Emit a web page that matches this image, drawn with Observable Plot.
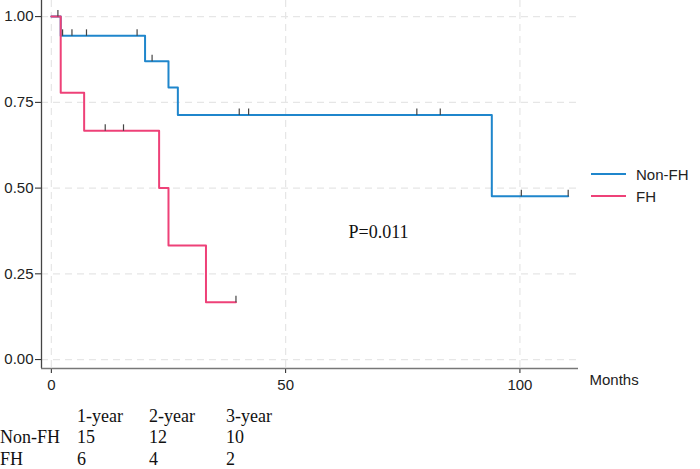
<!DOCTYPE html>
<html>
<head>
<meta charset="utf-8">
<script src="https://cdn.jsdelivr.net/npm/d3@7"></script>
<script src="https://cdn.jsdelivr.net/npm/@observablehq/plot@0.6"></script>
<style>
  body { margin: 0; background: #fff; }
  #wrap { position: relative; width: 700px; height: 469px; overflow: hidden; }
  #legend { position: absolute; left: 591px; top: 163px; font: 15px "Liberation Sans", Arial, sans-serif; color: #222; }
  #legend .row { height: 22px; display: flex; align-items: center; }
  #legend .sw { width: 35px; height: 1.6px; margin-right: 10px; }
  #risk { position: absolute; left: 0; top: 409px; font: 18px "Liberation Serif", "Times New Roman", serif; color: #111;
          display: grid; grid-template-columns: 77px 72px 77px 77px; line-height: 14px; row-gap: 7.4px; }
</style>
</head>
<body>
<div id="wrap"></div>
<script>
// Kaplan–Meier estimates by group: step times (months) and survival after each step
const groups = ["Non-FH", "FH"];
const groupColors = ["#1f86cc", "#ee4178"];

const nonFHTime = [0, 2, 20, 25, 27, 94, 110.3];
const nonFHSurv = [1, 0.944, 0.870, 0.793, 0.713, 0.476, 0.476];
const fhTime = [0, 2, 7, 23, 25, 33, 39.4];
const fhSurv = [1, 0.778, 0.667, 0.5, 0.333, 0.167, 0.167];

// censored observations (months)
const nonFHCensor = [2.4, 4.4, 7.5, 18.3, 21.5, 40.1, 42.1, 78, 83, 100.3, 110.3];
const fhCensor = [1.4, 11.5, 15.4, 39.4];

const xTicks = [0, 50, 100];
const yTicks = [0, 0.25, 0.5, 0.75, 1];
const pValue = "P=0.011";

// number at risk table
const riskCols = ["1-year", "2-year", "3-year"];
const nonFHAtRisk = [15, 12, 10];
const fhAtRisk = [6, 4, 2];

// survival read from the step function at time t
function survAt(times, surv, t) {
  let s = surv[0];
  for (let i = 0; i < times.length; i++) if (times[i] <= t) s = surv[i];
  return s;
}

const curves = [
  ...nonFHTime.map((t, i) => ({group: groups[0], t, s: nonFHSurv[i]})),
  ...fhTime.map((t, i) => ({group: groups[1], t, s: fhSurv[i]}))
];
const censored = [
  ...nonFHCensor.map(t => ({group: groups[0], t, s: survAt(nonFHTime, nonFHSurv, t)})),
  ...fhCensor.map(t => ({group: groups[1], t, s: survAt(fhTime, fhSurv, t)}))
];

const xDomain = [-2.1, 112.5];
const yDomain = [-0.026, 1.047];

// short vertical tick drawn upward from the curve
const censorMark = {draw(ctx) { ctx.moveTo(0, 0); ctx.lineTo(0, -6.5); }};

const chart = Plot.plot({
  width: 700,
  height: 400,
  marginLeft: 41,
  marginRight: 122,
  marginTop: 0,
  marginBottom: 32,
  style: {fontFamily: '"Liberation Sans", Arial, sans-serif', fontSize: "15px", color: "#222", background: "#fff"},
  x: {domain: xDomain, ticks: xTicks, tickSize: 5, tickPadding: 6, label: null},
  y: {domain: yDomain, ticks: yTicks, tickFormat: ".2f", tickSize: 6, tickPadding: 2, label: null},
  color: {domain: groups, range: groupColors},
  marks: [
    Plot.ruleY(yTicks, {stroke: "#e6e6e6", strokeDasharray: "7,5", strokeWidth: 1.2}),
    Plot.ruleX(xTicks, {stroke: "#e6e6e6", strokeDasharray: "7,5", strokeWidth: 1.2}),
    Plot.ruleX([xDomain[0]], {stroke: "#444", strokeWidth: 1.3}),
    Plot.ruleY([yDomain[0]], {stroke: "#777", strokeWidth: 1.3}),
    Plot.line(curves, {x: "t", y: "s", z: "group", stroke: "group", curve: "step-after", strokeWidth: 2}),
    Plot.dot(censored, {x: "t", y: "s", symbol: censorMark, stroke: "#444", fill: "none", strokeWidth: 1.2}),
    Plot.text([pValue], {frameAnchor: "top-left", dx: 337, dy: 225, text: d => d, textAnchor: "middle",
      fontFamily: '"Liberation Serif", "Times New Roman", serif', fontSize: 18, fill: "#111"}),
    Plot.text(["Months"], {frameAnchor: "bottom-right", dx: 11, dy: 16, text: d => d, textAnchor: "start", fill: "#222"})
  ]
});

const wrap = document.getElementById("wrap");
wrap.appendChild(chart);

// legend
const legend = document.createElement("div");
legend.id = "legend";
groups.forEach((g, i) => {
  const row = document.createElement("div");
  row.className = "row";
  const sw = document.createElement("span");
  sw.className = "sw";
  sw.style.background = groupColors[i];
  const lab = document.createElement("span");
  lab.textContent = g;
  row.append(sw, lab);
  legend.appendChild(row);
});
wrap.appendChild(legend);

// number-at-risk table: header row, then one row per group
const risk = document.createElement("div");
risk.id = "risk";
const cells = ["", ...riskCols, groups[0], ...nonFHAtRisk, groups[1], ...fhAtRisk];
cells.forEach(c => {
  const d = document.createElement("div");
  d.textContent = c;
  risk.appendChild(d);
});
wrap.appendChild(risk);
</script>
</body>
</html>
